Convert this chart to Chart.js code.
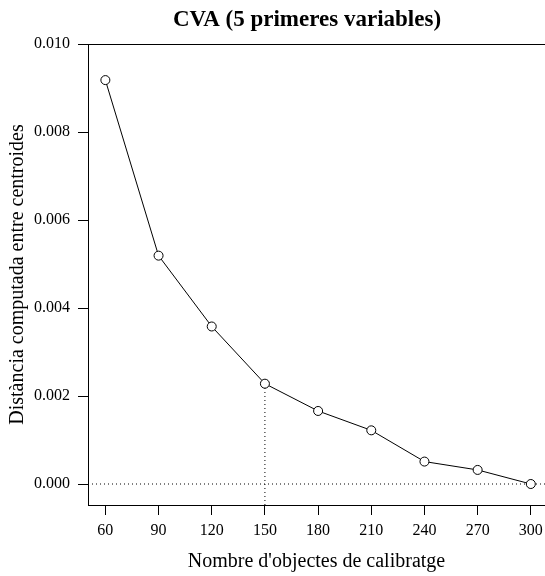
<!DOCTYPE html>
<html>
<head>
<meta charset="utf-8">
<script src="https://cdn.jsdelivr.net/npm/chart.js@4"></script>
<style>
  html, body { margin: 0; padding: 0; background: #fff; }
  #wrap { width: 545px; height: 576px; position: relative; }
</style>
</head>
<body>
<div id="wrap"><canvas id="chartCanvas"></canvas></div>
<script>
const objectCounts = [60, 90, 120, 150, 180, 210, 240, 270, 300];
const distances = [0.00918, 0.00519, 0.00358, 0.00228, 0.00166, 0.00122, 0.00051, 0.00032, 0.00000];
const xTicks = [60, 90, 120, 150, 180, 210, 240, 270, 300];
const yTicks = [0, 0.002, 0.004, 0.006, 0.008, 0.010];
const chosenCount = 150;
const titleText = "CVA (5 primeres variables)";

// axis ranges, padded like R's default plot region
const xMin = 50.2, xMax = 308.0;
const yMin = -0.000477, yMax = 0.010;

const serif = "'Liberation Serif', 'Times New Roman', serif";
const chosenDistance = distances[objectCounts.indexOf(chosenCount)];

// box top edge and the bold main title
const frame = {
    id: "frame",
    afterDraw(chart) {
        const { ctx, chartArea } = chart;
        const y = Math.round(chartArea.top) + 0.5;
        ctx.save();
        ctx.strokeStyle = "#000";
        ctx.lineWidth = 1;
        ctx.beginPath();
        ctx.moveTo(chartArea.left, y);
        ctx.lineTo(chartArea.right, y);
        ctx.stroke();

        ctx.fillStyle = "#000";
        ctx.font = "bold 23px " + serif;
        ctx.textAlign = "center";
        ctx.textBaseline = "alphabetic";
        ctx.fillText(titleText, 307, 26);
        ctx.restore();
    }
};

function axisStyle() {
    return {
        grid: { display: true, drawOnChartArea: false, drawTicks: true, tickLength: 10, color: "#000", lineWidth: 1 },
        border: { display: true, color: "#000", width: 1 },
        ticks: { color: "#000", font: { family: serif, size: 16 }, autoSkip: false, maxRotation: 0 },
    };
}

const xAxis = axisStyle();
xAxis.type = "linear";
xAxis.min = xMin;
xAxis.max = xMax;
xAxis.ticks.padding = 6;
xAxis.afterBuildTicks = scale => { scale.ticks = xTicks.map(v => ({ value: v })); };
xAxis.afterFit = scale => {
    scale.height = 71;
    scale.paddingLeft = 0;
    scale.paddingRight = 0;
};
xAxis.title = {
    display: true, text: "Nombre d'objectes de calibratge", color: "#000",
    font: { family: serif, size: 20 }, padding: { top: 0, bottom: 2.5 }
};

const yAxis = axisStyle();
yAxis.min = yMin;
yAxis.max = yMax;
yAxis.ticks.padding = 8;
yAxis.ticks.callback = v => v.toFixed(3);
yAxis.afterBuildTicks = scale => { scale.ticks = yTicks.map(v => ({ value: v })); };
yAxis.afterFit = scale => {
    scale.width = 88;
    scale.paddingTop = 0;
    scale.paddingBottom = 0;
};
yAxis.title = {
    display: true, text: "Distància computada entre centroides", color: "#000",
    font: { family: serif, size: 20 }, padding: { top: 5.5, bottom: 0 }
};

new Chart(document.getElementById("chartCanvas"), {
    type: "scatter",
    data: {
        datasets: [
            {
                data: objectCounts.map((x, i) => ({ x: x, y: distances[i] })),
                showLine: true,
                borderColor: "#000",
                borderWidth: 1,
                pointRadius: 4.5,
                pointBorderWidth: 1,
                pointBorderColor: "#000",
                pointBackgroundColor: "#fff",
                order: 0
            },
            {
                // dotted zero line
                data: [{ x: xMin, y: 0 }, { x: xMax, y: 0 }],
                showLine: true,
                borderColor: "#000",
                borderWidth: 1,
                borderDash: [1, 3],
                pointRadius: 0,
                order: 1
            },
            {
                // dotted drop line at the chosen size
                data: [{ x: chosenCount, y: yMin }, { x: chosenCount, y: chosenDistance }],
                showLine: true,
                borderColor: "#000",
                borderWidth: 1,
                borderDash: [1, 3],
                pointRadius: 0,
                order: 1
            }
        ]
    },
    options: {
        responsive: true,
        maintainAspectRatio: false,
        animation: false,
        layout: { autoPadding: false, padding: { top: 44, left: 0, right: 0, bottom: 0 } },
        plugins: {
            legend: { display: false },
            tooltip: { enabled: false },
            title: { display: false }
        },
        scales: { x: xAxis, y: yAxis }
    },
    plugins: [frame]
});
</script>
</body>
</html>
